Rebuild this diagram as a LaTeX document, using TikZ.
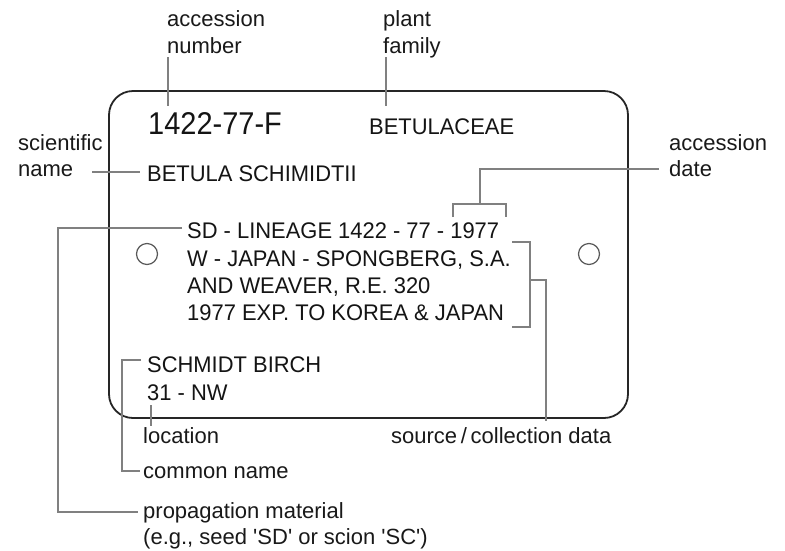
\documentclass[tikz,border=0pt]{standalone}
\usepackage{fontspec}
\setmainfont{Liberation Sans}
\newfontfamily\cardfont[FakeStretch=0.97]{Liberation Sans}
\newfontfamily\bigfont[FakeStretch=0.92]{Liberation Sans}
\begin{document}
\begin{tikzpicture}[x=1pt,y=-1pt,
  lbl/.style={anchor=base west,inner sep=0pt,font=\fontsize{22}{27}\selectfont,text=black!90},
  cardtxt/.style={anchor=base west,inner sep=0pt,font=\cardfont\fontsize{22.6}{27}\selectfont,text=black!92},
  bigtxt/.style={anchor=base west,inner sep=0pt,font=\bigfont\fontsize{31.5}{34}\selectfont,text=black!92},
  leader/.style={draw=black!50,line width=1.4pt},
  cardline/.style={draw=black!85,line width=1.8pt,rounded corners=24pt},
  hole/.style={draw=black!65,line width=1.2pt}]
\useasboundingbox (0,0) rectangle (785,550);
\fill[white] (0,0) rectangle (785,550);
% card
\draw[cardline] (109,91) rectangle (628,418);
\draw[hole] (147,254) circle (10.5);
\draw[hole] (589,254) circle (10.5);
% card texts
\node[bigtxt] (num) at (148,134.5) {1422-77-F};
\node[cardtxt] (fam) at (369,134.5) {BETULACEAE};
\node[cardtxt] (sci) at (147,181.5) {BETULA SCHIMIDTII};
\node[cardtxt] (l1) at (187,238.5) {SD - LINEAGE 1422 - 77 - 1977};
\node[cardtxt] (l2) at (187,266) {W - JAPAN - SPONGBERG, S.A.};
\node[cardtxt] (l3) at (187,293) {AND WEAVER, R.E. 320};
\node[cardtxt] (l4) at (187,320.5) {1977 EXP. TO KOREA \& JAPAN};
\node[cardtxt] (cn) at (147,372) {SCHMIDT BIRCH};
\node[cardtxt] (loc) at (147,400) {31 - NW};
% labels
\node[lbl] (accA) at (167,26) {accession};
\node[lbl] (accB) at (167,53) {number};
\node[lbl] (famA) at (383,26) {plant};
\node[lbl] (famB) at (383,53) {family};
\node[lbl] (sciA) at (18,150) {scientific};
\node[lbl] (sciB) at (18,176) {name};
\node[lbl] (dateA) at (669,150) {accession};
\node[lbl] (dateB) at (669,176) {date};
\node[lbl] (locL) at (143,443) {location};
\node[lbl] (srcL) at (391,443) {source\,/\,collection data};
\node[lbl] (cnL) at (143,478) {common name};
\node[lbl] (propA) at (143,518) {propagation material};
\node[lbl] (propB) at (143,544) {(e.g., seed \textquotesingle SD\textquotesingle\ or scion \textquotesingle SC\textquotesingle)};
% leader coordinates
\coordinate (a1) at (168,57); \coordinate (a2) at (168,106);
\coordinate (f1) at (386,57); \coordinate (f2) at (386,106);
\coordinate (s1) at (92,172); \coordinate (s2) at (140,172);
\coordinate (d1) at (453,217); \coordinate (d2) at (453,204);
\coordinate (d3) at (506,204); \coordinate (d4) at (506,217);
\coordinate (d5) at (480,204); \coordinate (d6) at (480,169); \coordinate (d7) at (659,169);
\coordinate (c1) at (512,242); \coordinate (c2) at (530,242);
\coordinate (c3) at (530,327); \coordinate (c4) at (512,327);
\coordinate (c5) at (530,280); \coordinate (c6) at (546,280); \coordinate (c7) at (546,421);
\coordinate (p1) at (182,228); \coordinate (p2) at (58,228);
\coordinate (p3) at (58,512); \coordinate (p4) at (138,512);
\coordinate (n1) at (141,360); \coordinate (n2) at (122,360);
\coordinate (n3) at (122,471); \coordinate (n4) at (140,471);
\coordinate (o1) at (151,405); \coordinate (o2) at (151,426);
% leaders
\draw[leader] (a1) -- (a2);
\draw[leader] (f1) -- (f2);
\draw[leader] (s1) -- (s2);
\draw[leader] (d1) -- (d2) -- (d3) -- (d4);
\draw[leader] (d5) -- (d6) -- (d7);
\draw[leader] (c1) -- (c2) -- (c3) -- (c4);
\draw[leader] (c5) -- (c6) -- (c7);
\draw[leader] (p1) -- (p2) -- (p3) -- (p4);
\draw[leader] (n1) -- (n2) -- (n3) -- (n4);
\draw[leader] (o1) -- (o2);
\end{tikzpicture}
\end{document}
